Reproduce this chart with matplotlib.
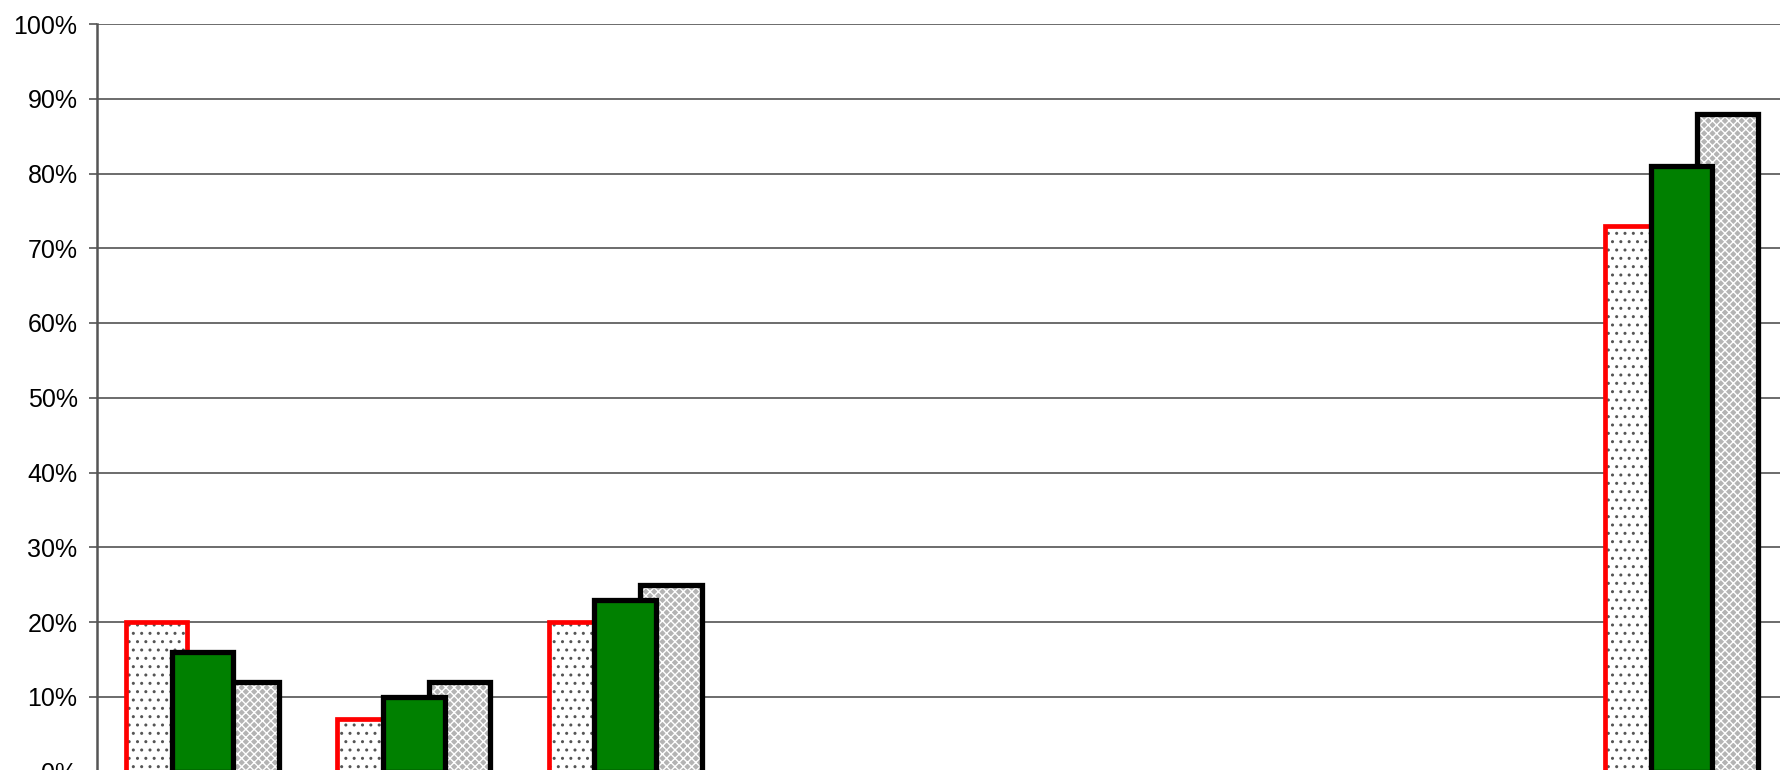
import numpy as np
import matplotlib.pyplot as plt
from matplotlib.ticker import PercentFormatter, MultipleLocator

plt.rcParams['font.family'] = ['Liberation Sans', 'DejaVu Sans']

categories = ['1', '2', '3', '4', '5', '6', '7', '8']
series_a = [0.20, 0.07, 0.20, np.nan, np.nan, np.nan, np.nan, 0.73]
series_b = [0.16, 0.10, 0.23, np.nan, np.nan, np.nan, np.nan, 0.81]
series_c = [0.12, 0.12, 0.25, np.nan, np.nan, np.nan, np.nan, 0.88]

x = np.arange(len(categories))
w = 0.29
step = 0.2175

fig = plt.figure(figsize=(17.8, 7.7), dpi=100)
ax = fig.add_axes([97 / 1780, -1.5 / 770, 1690 / 1780, 747.5 / 770])

# dotted white bars with red outline
ax.bar(x - step, series_a, w, color='white', edgecolor='#555555', hatch='..',
       linewidth=0, zorder=2)
ax.bar(x - step, series_a, w, fill=False, edgecolor='#ff0000', linewidth=3.4, zorder=2.1)

# checkered grey bars
ax.bar(x + step, series_c, w, color='#b4b4b4', edgecolor='white', hatch='xxxx',
       linewidth=0, zorder=3)
ax.bar(x + step, series_c, w, fill=False, edgecolor='black', linewidth=3.8, zorder=3.1)

# solid green bars on top
ax.bar(x, series_b, w, color='#008000', edgecolor='black', linewidth=3.8, zorder=4)

ax.set_xlim(-0.5, len(categories) - 0.5)
ax.set_ylim(0, 1)
ax.yaxis.set_major_locator(MultipleLocator(0.1))
ax.yaxis.set_major_formatter(PercentFormatter(1.0, decimals=0))
ax.tick_params(axis='y', labelsize=18, length=6, width=1.2, color='#555555', pad=8)
ax.tick_params(axis='x', bottom=False, labelbottom=False)

ax.grid(axis='y', color='#606060', linewidth=1.3, zorder=0)
ax.set_axisbelow(True)
for side in ['top', 'right', 'bottom']:
    ax.spines[side].set_visible(False)
ax.spines['left'].set_color('#555555')
ax.spines['left'].set_linewidth(1.8)

fig.savefig('out.png', dpi=100)
